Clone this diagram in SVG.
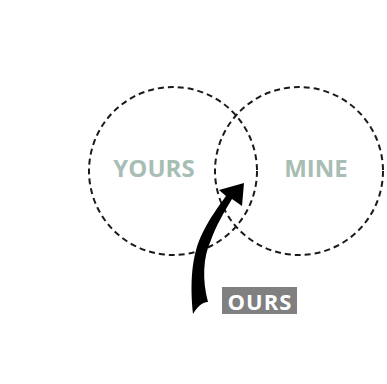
<svg xmlns="http://www.w3.org/2000/svg" width="387" height="384" viewBox="0 0 387 384">
<style>
.ring{fill:none;stroke:#1a1a1a;stroke-width:2;stroke-dasharray:6 4}
.lbl{font-family:"Open Sans","Liberation Sans",sans-serif;font-weight:bold;font-size:24px;fill:#a8bdb4;text-anchor:middle}
.tag{font-family:"Open Sans","Liberation Sans",sans-serif;font-weight:bold;font-size:22px;fill:#ffffff;text-anchor:middle;letter-spacing:1px}
</style>
<rect width="387" height="384" fill="#ffffff"/>
<g id="yours">
<circle class="ring" cx="173" cy="171" r="84"/>
<text class="lbl" x="154" y="177">YOURS</text>
</g>
<g id="mine">
<circle class="ring" cx="299" cy="171" r="84"/>
<text class="lbl" x="316" y="177">MINE</text>
</g>
<g id="connectors">
<path d="M193,314 C190,285 191,255 203,232 C210,218 218,207 226,196 L219,190 L244,183 L242,206 L232,199 C224,212 216,226 211,240 C203,257 202,280 208,302 C202,302 197,307 193,314 Z" fill="#000000"/>
</g>
<g id="ours">
<rect x="222" y="287" width="75" height="27" fill="#808080"/>
<text class="tag" x="260" y="310">OURS</text>
</g>
</svg>
